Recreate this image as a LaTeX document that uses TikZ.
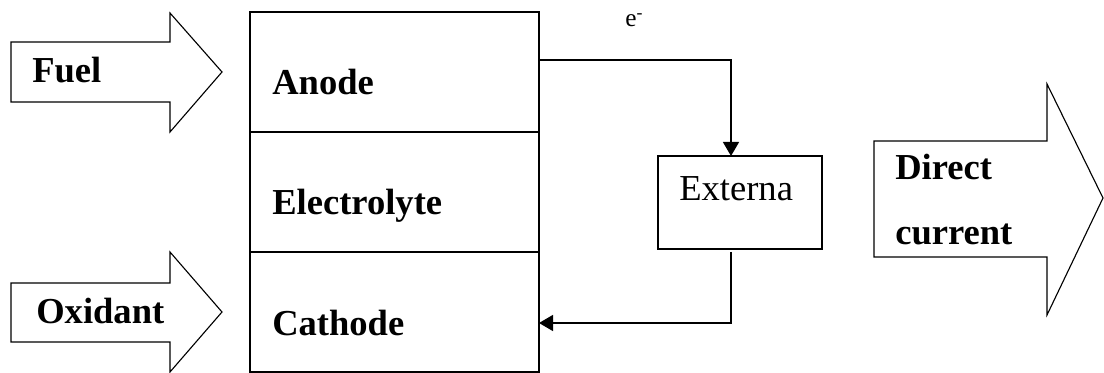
\documentclass[tikz,border=0pt]{standalone}
\usepackage{fontspec}
\setmainfont{Liberation Serif}
\usetikzlibrary{positioning,arrows.meta}
\begin{document}
\begin{tikzpicture}[x=0.025cm,y=-0.025cm,
  cell/.style={draw,line width=1pt,minimum width=7.225cm,minimum height=3cm,inner sep=0pt,outer sep=0pt},
  lbl/.style={anchor=base west,inner sep=0pt,font=\fontsize{26}{31}\selectfont\bfseries},
  plain/.style={anchor=base west,inner sep=0pt,font=\fontsize{26}{31}\selectfont},
  bigarrow/.style={draw,line width=0.8pt},
  wire/.style={line width=1pt,-{Triangle[length=0.35cm,width=0.4cm]}}]
\useasboundingbox (0,0) rectangle (1104,373);
% input and output arrows
\draw[bigarrow] (11,42) -- (170,42) -- (170,13) -- (222,72) -- (170,132) -- (170,102) -- (11,102) -- cycle;
\draw[bigarrow] (11,283) -- (170,283) -- (170,252) -- (222,312) -- (170,372) -- (170,342) -- (11,342) -- cycle;
\draw[bigarrow] (874,141) -- (1047,141) -- (1047,84) -- (1103,198) -- (1047,315) -- (1047,257) -- (874,257) -- cycle;
\node[lbl] (fuel) at (32,83) {Fuel};
\node[lbl] (oxid) at (36,323) {Oxidant};
\node[lbl] (dir) at (895,180) {Direct};
\node[lbl] (cur) at (895,245) {current};
% cell stack
\node[cell] (anode) at (394.5,72) {};
\node[cell,below=0pt of anode] (elec) {};
\node[cell,below=0pt of elec] (cath) {};
\node[lbl] (anodetxt) at (272,95) {Anode};
\node[lbl] (electxt) at (272,215) {Electrolyte};
\node[lbl] (cathtxt) at (272,335) {Cathode};
% external circuit
\node[draw,line width=1pt,minimum width=4.1cm,minimum height=2.325cm,inner sep=0pt,outer sep=0pt] (ext) at (740,202.5) {};
\node[plain] (exttxt) at (679,201) {Externa};
\node[anchor=base west,inner sep=0pt,font=\fontsize{18}{22}\selectfont] (elab) at (625,27) {e\textsuperscript{-}};
\coordinate (aout) at (539,60);
\coordinate (ein) at (731,156);
\coordinate (eout) at (731,252);
\coordinate (cin) at (539,323);
\draw[wire] (aout) -| (ein);
\draw[wire] (eout) |- (cin);
\end{tikzpicture}
\end{document}
